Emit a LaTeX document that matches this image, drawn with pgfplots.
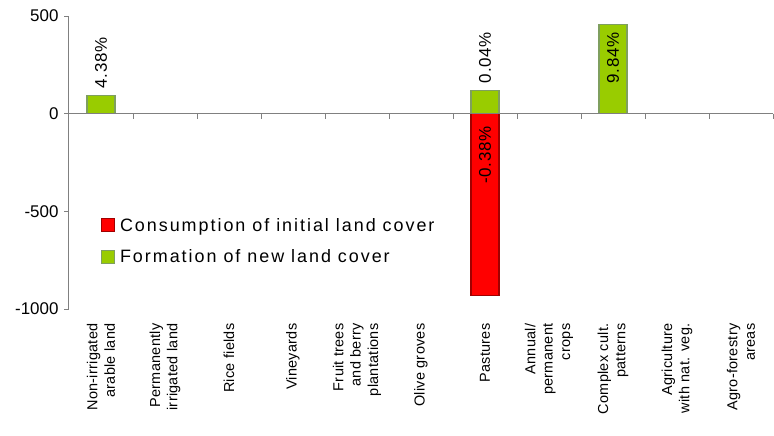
\documentclass[border=0pt]{standalone}
\usepackage{fontspec}
\setmainfont{Liberation Sans}
\usepackage{pgfplots}
\pgfplotsset{compat=1.18}
\definecolor{redbar}{HTML}{FF0000}
\definecolor{rededge}{HTML}{A00000}
\definecolor{greenbar}{HTML}{99CC00}
\definecolor{greenedge}{HTML}{7F9F5F}
\definecolor{axgray}{HTML}{808080}
\begin{document}
\begin{tikzpicture}
\path[use as bounding box] (-69bp,-127bp) rectangle (705bp,309bp);
\begin{axis}[
  at={(0,0)}, anchor=south west,
  scale only axis, width=704bp, height=293bp,
  xmin=-0.5, xmax=10.5, ymin=-1000, ymax=500,
  axis y line*=left, axis x line*=bottom,
  x axis line style={draw=none},
  y axis line style={axgray, line width=1bp},
  ytick={-1000,-500,0,500},
  tick align=outside,
  major tick length=5bp,
  major y tick style={axgray, line width=0.8bp},
  major x tick style={draw=none},
  yticklabel style={font=\fontsize{17}{20}\selectfont, xshift=-2bp},
  /pgf/number format/assume math mode=true,
  /pgf/number format/1000 sep={},
  xtick={0,...,10},
  xticklabels={
    {Non-irrigated\\arable land},
    {Permanently\\irrigated land},
    {Rice fields},
    {Vineyards},
    {Fruit trees\\and berry\\plantations},
    {Olive groves},
    {Pastures},
    {Annual/\\permanent\\crops},
    {Complex cult.\\patterns},
    {Agriculture\\with nat. veg.},
    {Agro-forestry\\areas}},
  xticklabel style={rotate=90, anchor=east, align=right,
    font=\fontsize{14.5}{17.5}\selectfont\addfontfeatures{LetterSpace=2}},
  xticklabel shift=6bp,
  clip=false,
  legend style={at={(axis description cs:0.045,0.318)}, anchor=north west,
    draw=none, fill=none, font=\fontsize{18}{20}\selectfont\addfontfeatures{LetterSpace=11},
    row sep=13bp, inner sep=0pt,
    nodes={inner xsep=5bp}},
  legend cell align=left,
  legend image code/.code={\draw[#1] (0bp,-6.5bp) rectangle (13bp,6.5bp);},
]
\addplot[ybar, bar width=28bp, bar shift=0pt, fill=redbar, draw=rededge, line width=1.2bp]
  coordinates {(6,-931)};
\addlegendentry{Consumption of initial land cover}
\addplot[ybar, bar width=28bp, bar shift=0pt, fill=greenbar, draw=greenedge, line width=1.2bp,
  nodes near coords, point meta=explicit symbolic,
  every node near coord/.append style={rotate=90, anchor=west, inner sep=7bp,
    font=\fontsize{17}{20}\selectfont\addfontfeatures{LetterSpace=4}}]
  coordinates {(0,92) [4.38\%] (6,118) [0.04\%]};
\addlegendentry{Formation of new land cover}
\addplot[ybar, bar width=28bp, bar shift=0pt, fill=greenbar, draw=greenedge, line width=1.2bp,
  forget plot,
  nodes near coords, point meta=explicit symbolic,
  every node near coord/.append style={rotate=90, anchor=east, inner sep=7bp,
    font=\fontsize{17}{20}\selectfont\addfontfeatures{LetterSpace=4}}]
  coordinates {(8,455) [9.84\%]};
\node[rotate=90, anchor=east, inner sep=0pt,
  font=\fontsize{17}{20}\selectfont\addfontfeatures{LetterSpace=4}] at (axis cs:6,-65) {-0.38\%};
\draw[axgray, line width=1bp] (axis cs:-0.5,0) -- (axis cs:10.5,0);
\pgfplotsinvokeforeach{0.5,1.5,2.5,3.5,4.5,5.5,6.5,7.5,8.5,9.5,10.5}{
  \draw[axgray, line width=0.8bp] (axis cs:#1,0) -- ([yshift=-5bp]axis cs:#1,0);
}
\end{axis}
\end{tikzpicture}
\end{document}
